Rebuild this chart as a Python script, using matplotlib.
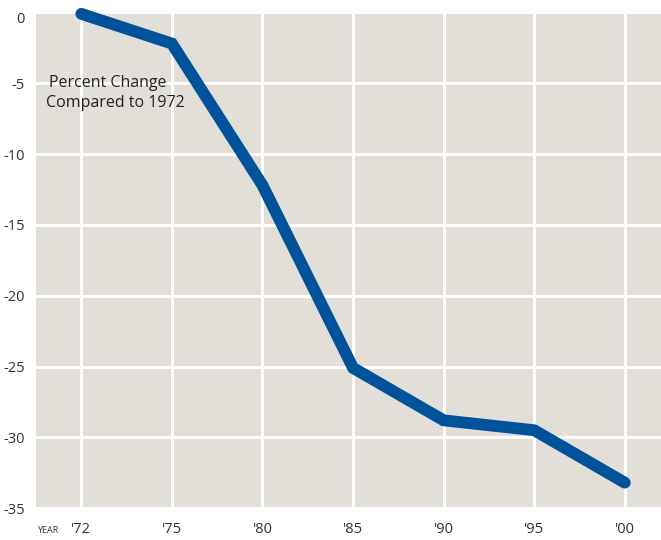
import matplotlib.pyplot as plt
import numpy as np

plt.rcParams['font.family'] = ['Open Sans', 'DejaVu Sans']

years = ["'72", "'75", "'80", "'85", "'90", "'95", "'00"]
pct_change = [-0.1, -2.2, -12.2, -25.1, -28.8, -29.5, -33.2]
yticks = [0, -5, -10, -15, -20, -25, -30, -35]

fig = plt.figure(figsize=(6.61, 5.4), dpi=100)
ax = fig.add_axes([0.0545, 0.059, 0.9455, 0.918])
ax.set_facecolor('#e2dfd9')

x = np.arange(len(years))
ax.plot(x, pct_change, color='#00529b', lw=8.5, solid_capstyle='round',
        solid_joinstyle='miter', zorder=3, clip_on=False)

ax.set_xlim(-0.5, 6.4)
ax.set_ylim(-35, -0.15)
ax.set_xticks(x)
ax.set_xticklabels(years)
ax.set_yticks(yticks)
ax.set_yticklabels([str(v) for v in yticks])
ax.grid(True, color='white', lw=2.2, zorder=1)
ax.set_axisbelow(True)
for s in ax.spines.values():
    s.set_visible(False)
ax.tick_params(length=0, labelsize=10.5, colors='#333333', pad=10)
ax.tick_params(axis='y', pad=8)
for lbl in ax.get_yticklabels():
    if lbl.get_text() == '0':
        lbl.set_va('top')

# two-line note, second line sits a touch further left
ax.text(-0.355, -5.0, 'Percent Change', ha='left', va='center',
        fontsize=11.5, color='#222222')
ax.text(-0.39, -6.4, 'Compared to 1972', ha='left', va='center',
        fontsize=11.5, color='#222222')
fig.text(0.072, 0.0185, 'YEAR', fontsize=6.5, color='#333333', ha='center', va='center')

fig.savefig('out.png', dpi=100)
